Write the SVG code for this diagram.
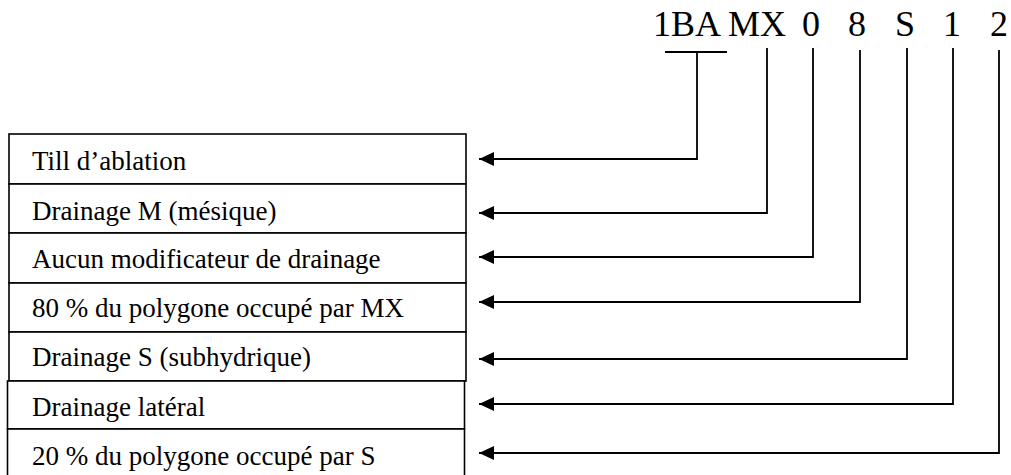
<svg xmlns="http://www.w3.org/2000/svg" width="1011" height="475" viewBox="0 0 1011 475">
<style>
.box{fill:#fff;stroke:#000;stroke-width:1.6}
.lbl{font-family:"Liberation Serif","Times New Roman",serif;font-size:27px;fill:#000}
.code{font-family:"Liberation Serif","Times New Roman",serif;font-size:36px;fill:#000}
.conn{fill:none;stroke:#000;stroke-width:1.8;marker-end:url(#ah)}
.bar{fill:none;stroke:#000;stroke-width:1.8}
</style>
<defs>
<marker id="ah" markerUnits="userSpaceOnUse" markerWidth="16" markerHeight="14" refX="15" refY="7" orient="auto">
<path d="M0,0 L15,7 L0,14 Z" fill="#000"/>
</marker>
</defs>
<rect width="1011" height="475" fill="#fff"/>
<g id="code">
<text class="code" y="36"><tspan x="653">1BA</tspan> <tspan x="728">MX</tspan> <tspan x="802">0</tspan> <tspan x="848">8</tspan> <tspan x="895">S</tspan> <tspan x="943">1</tspan> <tspan x="990">2</tspan></text>
</g>
<g id="node-till">
<rect class="box" x="9" y="134" width="457" height="50"/>
<text class="lbl" x="32" y="170">Till d’ablation</text>
</g>
<g id="node-drainage-m">
<rect class="box" x="9" y="184" width="457" height="49"/>
<text class="lbl" x="32" y="220">Drainage M (mésique)</text>
</g>
<g id="node-aucun">
<rect class="box" x="9" y="233" width="457" height="50"/>
<text class="lbl" x="32" y="268">Aucun modificateur de drainage</text>
</g>
<g id="node-80">
<rect class="box" x="9" y="283" width="457" height="49"/>
<text class="lbl" x="32" y="317">80 % du polygone occupé par MX</text>
</g>
<g id="node-drainage-s">
<rect class="box" x="9" y="332" width="457" height="49"/>
<text class="lbl" x="32" y="366">Drainage S (subhydrique)</text>
</g>
<g id="node-lateral">
<rect class="box" x="7.5" y="381" width="457" height="48"/>
<text class="lbl" x="32" y="416">Drainage latéral</text>
</g>
<g id="node-20">
<rect class="box" x="7.5" y="429" width="457" height="50"/>
<text class="lbl" x="32" y="465">20 % du polygone occupé par S</text>
</g>
<g id="connectors">
<path class="bar" d="M665,52 H727"/>
<path class="conn" d="M697,52 V159 H479"/>
<path class="conn" d="M767,48 V213 H479"/>
<path class="conn" d="M813,48 V257 H479"/>
<path class="conn" d="M860,50 V302 H479"/>
<path class="conn" d="M907,48 V359 H479"/>
<path class="conn" d="M953,48 V404 H479"/>
<path class="conn" d="M999,50 V453 H479"/>
</g>
</svg>
